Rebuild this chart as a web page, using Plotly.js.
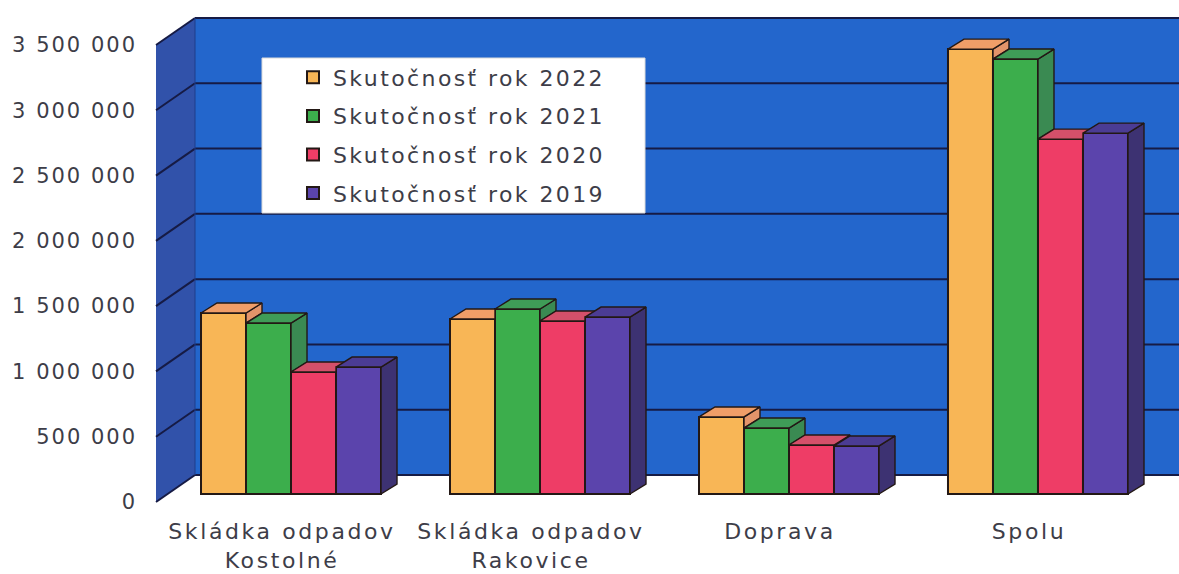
<!DOCTYPE html>
<html><head><meta charset="utf-8">
<script src="https://cdn.plot.ly/plotly-3.0.1.min.js"></script>
<style>
html,body{margin:0;padding:0;background:#fff;}
#chart{width:1179px;height:574px;}
.ytick text {letter-spacing:2px;}
.xtick text {letter-spacing:2.6px;}
.legendtext {letter-spacing:2.4px;}
</style></head><body><div id="chart"></div>
<script>
// ---- data ----
const categories = ['Skládka odpadov<br>Kostolné', 'Skládka odpadov<br>Rakovice', 'Doprava', 'Spolu'];
const seriesNames = ['Skutočnosť rok 2022', 'Skutočnosť rok 2021', 'Skutočnosť rok 2020', 'Skutočnosť rok 2019'];
const v2022 = [1386000, 1340000, 590000, 3407000];
const v2021 = [1309000, 1417000, 505000, 3331000];
const v2020 = [934000, 1325000, 375000, 2718000];
const v2019 = [972000, 1355000, 368000, 2764000];
const yTickValues = [0, 500000, 1000000, 1500000, 2000000, 2500000, 3000000, 3500000];
const yTickLabels = ['0', '500 000', '1 000 000', '1 500 000', '2 000 000', '2 500 000', '3 000 000', '3 500 000'];

// ---- styles ----
const frontColors = ['#F8B656', '#3CAE4C', '#EE3D66', '#5B44AC'];
const topColors = ['#F09E68', '#3F9C57', '#D4506A', '#4B3C94'];
const sideColors = ['#E3946A', '#3A8A52', '#BF3D5C', '#3D3272'];
const edge = '#231815';
const textColor = '#3d3d48';
const fontFam = 'DejaVu Sans';

// ---- geometry ----
const W = 1179, H = 574, L = 156, R = 0, T = 14, B = 71;
const plotW = W - L - R, plotH = H - T - B;
const xRange = [-0.5422, 3.5663];
const yRange = [-69000, 3676000];
const pxPerX = plotW / (xRange[1] - xRange[0]);
const pxPerY = plotH / (yRange[1] - yRange[0]);
const yAt = p => yRange[0] + (H - B - p) / pxPerY;   // value at pixel row
const pxX = p => (p - L) / plotW;                      // paper x of pixel column
const pxY = p => (H - B - p) / plotH;                  // paper y of pixel row
const frontOff = yAt(502);
const backOff = yAt(475);
const wallX = pxX(195);
const barW = 45 / pxPerX;
const dX = 16 / pxPerX, dY = 10 / pxPerY;
const labelShift = 9 / pxPerX;
const series = [v2022, v2021, v2020, v2019];

const traces = [];
series.forEach((vals, k) => {
  traces.push({
    type: 'bar', name: seriesNames[k], legendgroup: 'g' + k,
    x: categories.map((_, i) => i + (k - 1.5) * barW), y: vals, width: barW,
    marker: {color: frontColors[k], line: {color: edge, width: 2}},
    hoverinfo: 'skip'
  });
});
series.forEach((vals, k) => {
  const sx = [], sy = [], tx = [], ty = [];
  vals.forEach((v, i) => {
    const x0 = i + (k - 2) * barW, x1 = x0 + barW;
    const c = k < 3 ? series[k + 1][i] : null;
    // side face
    if (c === null) {
      sx.push(x1, x1, x1 + dX, x1 + dX, x1, null);
      sy.push(0, v, v + dY, dY, 0, null);
    } else if (c < v) {
      sx.push(x1, x1, x1 + dX, x1 + dX, x1, null);
      sy.push(c, v, v + dY, c + dY, c, null);
    }
    // top face
    if (c !== null && c > v) {
      if (c >= v + dY) {
        tx.push(x0, x0 + dX, x1, x1, x0, null);
        ty.push(v, v + dY, v + dY, v, v, null);
      } else {
        tx.push(x0, x0 + dX, x1 + dX, x1 + (c - v) / dY * dX, x1, x1, x0, null);
        ty.push(v, v + dY, v + dY, c, c, v, v, null);
      }
    } else {
      tx.push(x0, x0 + dX, x1 + dX, x1, x0, null);
      ty.push(v, v + dY, v + dY, v, v, null);
    }
  });
  traces.push({type: 'scatter', mode: 'lines', x: sx, y: sy, fill: 'toself', fillcolor: sideColors[k],
    line: {color: edge, width: 1.4}, showlegend: false, hoverinfo: 'skip'});
  traces.push({type: 'scatter', mode: 'lines', x: tx, y: ty, fill: 'toself', fillcolor: topColors[k],
    line: {color: edge, width: 1.4}, showlegend: false, hoverinfo: 'skip'});
});

// ---- decorative walls ----
const topV = yTickValues[yTickValues.length - 1];
const shapes = [];
shapes.push({type: 'rect', layer: 'below', xref: 'paper', yref: 'y', x0: wallX, x1: 1,
  y0: backOff, y1: topV + backOff, fillcolor: '#2366CC', line: {width: 0}});
shapes.push({type: 'path', layer: 'below', xref: 'paper', yref: 'y',
  path: `M 0,${frontOff} L 0,${topV + frontOff} L ${wallX},${topV + backOff} L ${wallX},${backOff} Z`,
  fillcolor: '#3152AA', line: {width: 0}});
yTickValues.forEach(v => {
  shapes.push({type: 'line', layer: 'below', xref: 'paper', yref: 'y', x0: wallX, x1: 1,
    y0: v + backOff, y1: v + backOff, line: {color: '#161B45', width: 2}});
  shapes.push({type: 'line', layer: 'below', xref: 'paper', yref: 'y', x0: 0, x1: wallX,
    y0: v + frontOff, y1: v + backOff, line: {color: '#161B45', width: 2}});
});
shapes.push({type: 'line', layer: 'below', xref: 'paper', yref: 'y', x0: wallX, x1: wallX,
  y0: backOff, y1: topV + backOff, line: {color: '#1E3D8A', width: 1}});
// legend box
shapes.push({type: 'rect', layer: 'below', xref: 'paper', yref: 'paper',
  x0: pxX(262), x1: pxX(645), y0: pxY(213), y1: pxY(58), fillcolor: '#FFFFFF', line: {color: '#DADADA', width: 1}});

const layout = {
  width: W, height: H,
  margin: {l: L, r: R, t: T, b: B, pad: 0},
  paper_bgcolor: '#FFFFFF', plot_bgcolor: 'rgba(0,0,0,0)',
  barmode: 'overlay',
  showlegend: true,
  legend: {x: pxX(293), y: pxY(56.5), xanchor: 'left', yanchor: 'top', bgcolor: 'rgba(0,0,0,0)',
    font: {family: fontFam, size: 22, color: textColor}, tracegroupgap: 7, traceorder: 'grouped'},
  xaxis: {range: xRange, tickvals: categories.map((_, i) => i - labelShift), ticktext: categories,
    showgrid: false, zeroline: false, showline: false, ticks: '', ticklabelstandoff: 13,
    tickfont: {family: fontFam, size: 22, color: textColor}, fixedrange: true},
  yaxis: {range: yRange, tickvals: yTickValues.map(v => v + frontOff), ticktext: yTickLabels,
    showgrid: false, zeroline: false, showline: false, ticks: '', ticklabelstandoff: 18,
    tickfont: {family: fontFam, size: 21, color: textColor}, fixedrange: true},
  shapes: shapes
};
Plotly.newPlot('chart', traces, layout, {displayModeBar: false, staticPlot: true});
</script></body></html>
